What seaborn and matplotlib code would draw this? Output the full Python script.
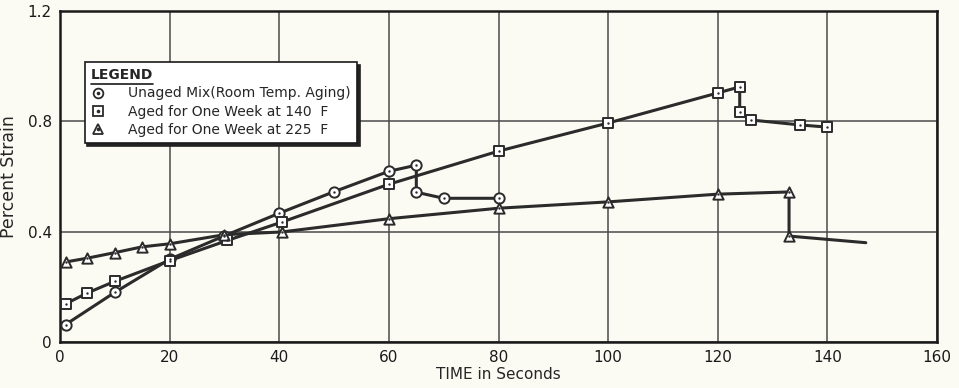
import numpy as np
import pandas as pd
import matplotlib
matplotlib.use("Agg")
import matplotlib.pyplot as plt
from matplotlib.lines import Line2D
import seaborn as sns

# Readings taken off the chart
unaged_time = [1, 10, 20, 30, 40, 50, 60, 65, 65, 70, 80]
unaged_strain = [0.063, 0.18, 0.30, 0.385, 0.467, 0.545, 0.619, 0.641, 0.543, 0.521, 0.521]

aged140_time = [1, 5, 10, 20, 30.5, 40.5, 60, 80, 100, 120, 124, 124, 126, 135, 140]
aged140_strain = [0.138, 0.178, 0.22, 0.295, 0.368, 0.435, 0.572, 0.692, 0.794,
                  0.903, 0.925, 0.834, 0.805, 0.787, 0.779]

aged225_time = [1, 5, 10, 15, 20, 30, 40.5, 60, 80, 100, 120, 133, 133, 147]
aged225_strain = [0.29, 0.304, 0.324, 0.345, 0.356, 0.389, 0.399, 0.447, 0.485,
                  0.508, 0.536, 0.544, 0.384, 0.36]

labels = ["Unaged Mix(Room Temp. Aging)",
          "Aged for One Week at 140  F",
          "Aged for One Week at 225  F"]
x_ticks = [0, 20, 40, 60, 80, 100, 120, 140, 160]
y_ticks = [0, 0.4, 0.8, 1.2]
y_ticklabels = ["0", "0.4", "0.8", "1.2"]

ink = "#2b2b2b"
paper = "#fcfbf3"

sns.set_style("white")
plt.rcParams["font.family"] = ["DejaVu Sans"]

fig = plt.figure(figsize=(9.59, 3.88), dpi=100, facecolor=paper)
ax = fig.add_axes([0.0626, 0.1186, 0.9145, 0.853])
ax.set_facecolor(paper)

series = [
    (unaged_time, unaged_strain, "o", None),
    (aged140_time, aged140_strain, "s", None),
    (aged225_time, aged225_strain, "^", -1),  # last point is just the tail of the line
]

for t, s, mk, stop in series:
    df = pd.DataFrame({"time": t, "strain": s})
    sns.lineplot(data=df, x="time", y="strain", ax=ax, estimator=None, sort=False,
                 color=ink, lw=2.2, zorder=3)
    pts = df.iloc[:stop] if stop else df
    sns.scatterplot(data=pts, x="time", y="strain", ax=ax, marker=mk, s=55,
                    facecolor="white", edgecolor=ink, linewidth=1.4, zorder=4)
    sns.scatterplot(data=pts, x="time", y="strain", ax=ax, marker="o", s=3,
                    color=ink, linewidth=0, zorder=5)

ax.set_xlim(0, 160)
ax.set_ylim(0, 1.2)
ax.set_xticks(x_ticks)
ax.set_yticks(y_ticks)
ax.set_yticklabels(y_ticklabels)
ax.tick_params(length=0, labelsize=11, colors="#1a1a1a", pad=6)
ax.grid(True, color="#4a4a4a", lw=1.1)
ax.set_axisbelow(True)
for sp in ax.spines.values():
    sp.set_color("#1a1a1a")
    sp.set_linewidth(1.8)

ax.set_xlabel("TIME in Seconds", fontsize=11, labelpad=1)
ax.set_ylabel("Percent Strain", fontsize=12.5, labelpad=7)

handles = []
for mk in ["o", "s", "^"]:
    outer = Line2D([], [], marker=mk, ls="none", mfc="white", mec=ink, ms=7, mew=1.3)
    dot = Line2D([], [], marker="o", ls="none", color=ink, ms=1.6)
    handles.append((outer, dot))

leg = ax.legend(handles, labels, title="LEGEND", loc="upper left",
                bbox_to_anchor=(0.028, 0.846), borderaxespad=0, fontsize=10,
                title_fontsize=10, alignment="left", frameon=True, fancybox=False,
                shadow={"color": "#222222", "alpha": 1}, edgecolor="#1a1a1a",
                framealpha=1, facecolor="white", handlelength=1.0,
                handletextpad=1.7, labelspacing=0.3, borderpad=0.45)
leg.get_frame().set_linewidth(1.2)
leg.get_title().set_fontweight("bold")
leg.set_zorder(10)

# underline the legend title
fig.canvas.draw()
bb = leg.get_title().get_window_extent().transformed(fig.transFigure.inverted())
fig.add_artist(Line2D([bb.x0, bb.x1], [bb.y0 - 0.004, bb.y0 - 0.004],
                      color="#1a1a1a", lw=1.2, zorder=11))

fig.savefig("out.png", dpi=100, facecolor=paper)
